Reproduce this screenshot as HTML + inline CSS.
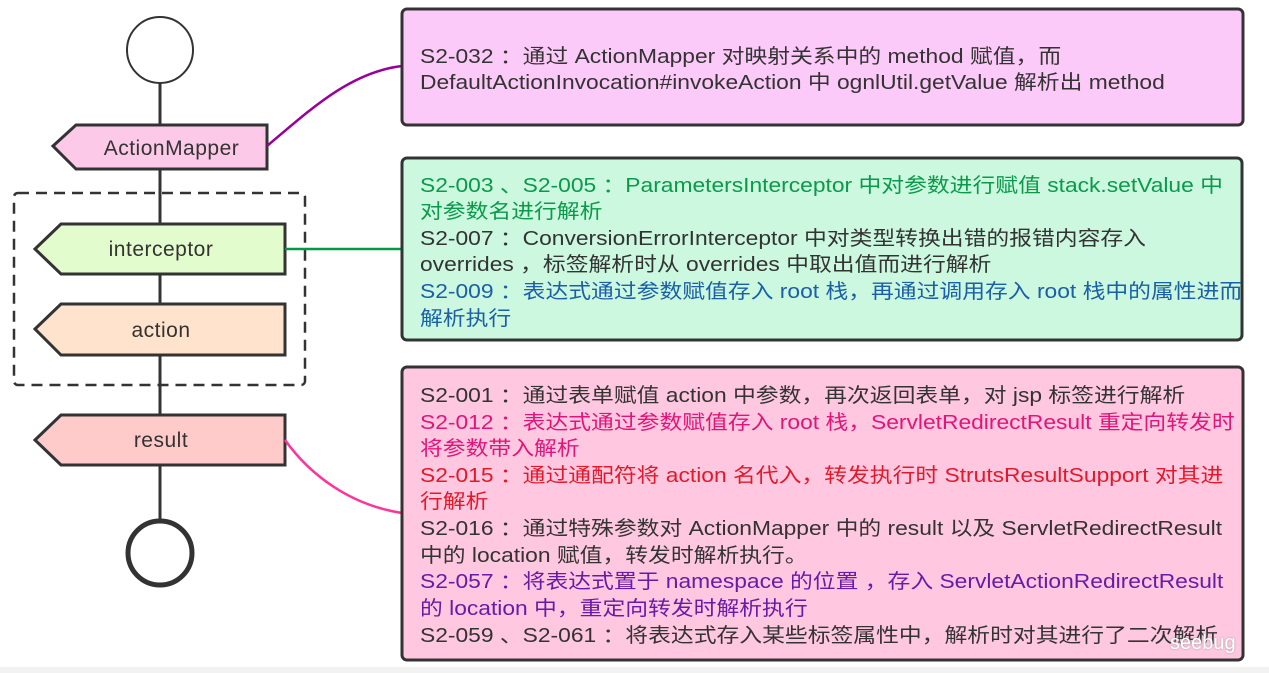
<!DOCTYPE html>
<html><head><meta charset="utf-8"><style>
body{margin:0;width:1269px;height:673px;background:#fff;overflow:hidden;position:relative;font-family:"Liberation Sans","Noto Sans CJK SC",sans-serif}
.l{position:absolute;left:420px;font-size:20px;white-space:nowrap;line-height:26px;color:#333;transform:scaleX(1.14);transform-origin:0 0}
.g{color:#0a9a4a}.b{color:#1a5fa8}.m{color:#e0157a}.r{color:#e01a2a}.p{color:#6a1aa8}
.n{position:absolute;font-size:21px;color:#333;text-align:center;white-space:nowrap;letter-spacing:0.5px}
</style></head><body>
<svg width="1269" height="673" style="position:absolute;left:0;top:0">
<rect x="0" y="667" width="1269" height="6" fill="#f2f2f2"/>
<line x1="160" y1="83" x2="160" y2="520" stroke="#333" stroke-width="3"/>
<circle cx="160" cy="50" r="33" fill="#fff" stroke="#333" stroke-width="2"/>
<circle cx="160" cy="553" r="32" fill="#fff" stroke="#333" stroke-width="5"/>
<rect x="14" y="193" width="291" height="192" rx="4" fill="none" stroke="#333" stroke-width="2.5" stroke-dasharray="11,7"/>
<polygon points="53,146 76,125 267,125 267,169 76,169" fill="#fccae8" stroke="#333" stroke-width="3"/>
<polygon points="35,249 61,224 285,224 285,274 61,274" fill="#e3fcce" stroke="#333" stroke-width="3"/>
<polygon points="35,329 61,304 285,304 285,355 61,355" fill="#ffe3cc" stroke="#333" stroke-width="3"/>
<polygon points="35,440 61,415 285,415 285,465 61,465" fill="#ffcaca" stroke="#333" stroke-width="3"/>
<path d="M267,146 C310,110 350,72 402,66" fill="none" stroke="#990099" stroke-width="2.5"/>
<line x1="285" y1="249" x2="402" y2="249" stroke="#009944" stroke-width="2.5"/>
<path d="M285,440 C310,475 350,505 402,513" fill="none" stroke="#ff3399" stroke-width="2.5"/>
<rect x="402" y="9" width="841" height="116" rx="5" fill="#fccaf8" stroke="#333" stroke-width="3"/>
<rect x="402" y="158" width="840" height="182" rx="5" fill="#ccf8e0" stroke="#333" stroke-width="3"/>
<rect x="402" y="367" width="841" height="293" rx="5" fill="#ffc8e0" stroke="#333" stroke-width="3"/>
</svg>
<div class="n" style="left:76px;top:135px;width:191px;line-height:28px">ActionMapper</div>
<div class="n" style="left:61px;top:236px;width:200px;line-height:28px">interceptor</div>
<div class="n" style="left:61px;top:317px;width:200px;line-height:28px">action</div>
<div class="n" style="left:61px;top:427px;width:200px;line-height:28px">result</div>

<div class="l" style="top:44px">S2-032 ：通过 ActionMapper 对映射关系中的 method 赋值，而</div>
<div class="l" style="top:70px">DefaultActionInvocation#invokeAction 中 ognlUtil.getValue 解析出 method</div>

<div class="l g" style="top:173px">S2-003 、S2-005 ：ParametersInterceptor 中对参数进行赋值 stack.setValue 中</div>
<div class="l g" style="top:199px">对参数名进行解析</div>
<div class="l" style="top:226px">S2-007 ：ConversionErrorInterceptor 中对类型转换出错的报错内容存入</div>
<div class="l" style="top:252px">overrides ，标签解析时从 overrides 中取出值而进行解析</div>
<div class="l b" style="top:279px">S2-009 ：表达式通过参数赋值存入 root 栈，再通过调用存入 root 栈中的属性进而</div>
<div class="l b" style="top:306px">解析执行</div>

<div class="l" style="top:383px">S2-001 ：通过表单赋值 action 中参数，再次返回表单，对 jsp 标签进行解析</div>
<div class="l m" style="top:410px">S2-012 ：表达式通过参数赋值存入 root 栈，ServletRedirectResult 重定向转发时</div>
<div class="l m" style="top:436px">将参数带入解析</div>
<div class="l r" style="top:463px">S2-015 ：通过通配符将 action 名代入，转发执行时 StrutsResultSupport 对其进</div>
<div class="l r" style="top:489px">行解析</div>
<div class="l" style="top:516px">S2-016 ：通过特殊参数对 ActionMapper 中的 result 以及 ServletRedirectResult</div>
<div class="l" style="top:543px">中的 location 赋值，转发时解析执行。</div>
<div class="l p" style="top:569px">S2-057 ：将表达式置于 namespace 的位置 ，存入 ServletActionRedirectResult</div>
<div class="l p" style="top:596px">的 location 中，重定向转发时解析执行</div>
<div class="l" style="top:623px">S2-059 、S2-061 ：将表达式存入某些标签属性中，解析时对其进行了二次解析</div>
<div style="position:absolute;left:1170px;top:632px;font-size:20px;color:#fff;text-shadow:0 0 2px #999">seebug</div>
</body></html>
